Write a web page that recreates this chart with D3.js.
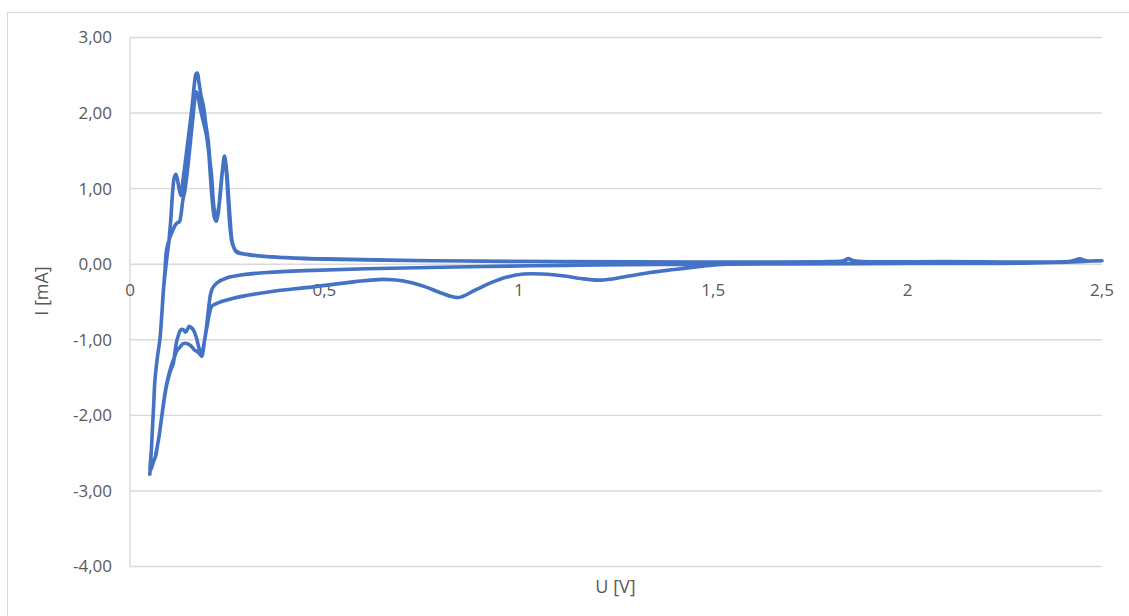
<!DOCTYPE html>
<html>
<head>
<meta charset="utf-8">
<script src="https://cdn.jsdelivr.net/npm/d3@7"></script>
<style>
  html, body { margin: 0; padding: 0; background: #fff; }
  svg { display: block; }
  text { font-family: "Open Sans", "Noto Sans", sans-serif; fill: #595959; }
</style>
</head>
<body>
<svg id="chart" width="1129" height="616"></svg>
<script>
// ---- Data (U in V, I in mA) ----
const xTicks = [0, 0.5, 1, 1.5, 2, 2.5];
const xTickLabels = ["0", "0,5", "1", "1,5", "2", "2,5"];
const yTicks = [-4, -3, -2, -1, 0, 1, 2, 3];
const yTickLabels = ["-4,00", "-3,00", "-2,00", "-1,00", "0,00", "1,00", "2,00", "3,00"];
const xTitle = "U [V]";
const yTitle = "I [mA]";

// cycle 1, anodic sweep
const anodic1 = [
  [0.051,-2.78],[0.055,-2.45],[0.058,-2.15],[0.061,-1.85],[0.064,-1.54],[0.070,-1.25],
  [0.077,-0.99],[0.082,-0.65],[0.086,-0.34],[0.090,-0.08],[0.094,0.19],[0.103,0.36],
  [0.111,0.46],[0.118,0.53],[0.122,0.55],[0.127,0.56],[0.131,0.65],[0.136,0.85],
  [0.141,0.97],[0.148,1.25],[0.155,1.6],[0.162,1.95],[0.167,2.2],[0.170,2.28],
  [0.174,2.24],[0.180,2.08],[0.188,1.9],[0.196,1.72],[0.202,1.5],[0.207,1.15],
  [0.212,0.82],[0.217,0.62],[0.222,0.57],[0.227,0.68],[0.232,0.95],[0.238,1.25],
  [0.243,1.40],[0.248,1.2],[0.253,0.8],[0.258,0.45],[0.264,0.26],[0.274,0.17],
  [0.30,0.13],[0.386,0.09],[0.5,0.07],[0.78,0.045],[1.1,0.035],[1.47,0.03],
  [1.8,0.035],[1.835,0.045],[1.848,0.07],[1.862,0.045],[2.1,0.035],[2.42,0.04],
  [2.443,0.065],[2.46,0.045],[2.5,0.045]
];
// cycle 1, cathodic sweep
const cathodic1 = [
  [2.5,0.045],[2.3,0.015],[2.0,0.01],[1.7,0.005],[1.55,0.0],[1.51,-0.005],[1.466,-0.03],
  [1.40,-0.07],[1.337,-0.11],[1.27,-0.17],[1.209,-0.21],[1.16,-0.19],[1.123,-0.16],
  [1.06,-0.13],[1.012,-0.13],[0.97,-0.17],[0.926,-0.25],[0.885,-0.35],[0.845,-0.44],
  [0.80,-0.38],[0.76,-0.30],[0.70,-0.22],[0.652,-0.20],[0.58,-0.23],[0.471,-0.30],
  [0.352,-0.37],[0.266,-0.45],[0.222,-0.52],[0.210,-0.56],[0.204,-0.66],[0.199,-0.80],
  [0.193,-0.97],[0.188,-1.12],[0.185,-1.21],[0.181,-1.20],[0.174,-1.16],[0.167,-1.14],
  [0.160,-1.10],[0.154,-1.07],[0.146,-1.05],[0.137,-1.05],[0.128,-1.10],[0.120,-1.15],
  [0.113,-1.25],[0.107,-1.33],[0.100,-1.46],[0.093,-1.62],[0.086,-1.85],[0.080,-2.08],
  [0.075,-2.27],[0.070,-2.42],[0.067,-2.52],[0.060,-2.62],[0.052,-2.74]
];
// cycle 2, anodic sweep
const anodic2 = [
  [0.052,-2.74],[0.055,-2.45],[0.058,-2.15],[0.061,-1.85],[0.064,-1.54],[0.070,-1.25],
  [0.077,-0.99],[0.082,-0.65],[0.086,-0.34],[0.094,0.05],[0.100,0.30],[0.105,0.6],
  [0.110,0.98],[0.114,1.15],[0.118,1.19],[0.122,1.12],[0.127,0.98],[0.131,0.91],
  [0.136,1.1],[0.141,1.3],[0.146,1.51],[0.153,1.8],[0.160,2.1],[0.166,2.4],
  [0.170,2.52],[0.173,2.53],[0.177,2.42],[0.183,2.22],[0.189,2.09],[0.195,1.85],
  [0.201,1.64],[0.206,1.35],[0.210,1.16],[0.214,0.85],[0.217,0.70],[0.221,0.58],
  [0.225,0.66],[0.231,0.86],[0.238,1.25],[0.243,1.43],[0.246,1.35],[0.250,1.16],
  [0.254,0.85],[0.257,0.63],[0.264,0.27],[0.274,0.16],[0.30,0.13],[0.386,0.09],
  [0.437,0.075],[0.78,0.045],[1.1,0.035],[1.47,0.03],[1.8,0.035],[1.835,0.045],
  [1.848,0.075],[1.862,0.045],[2.1,0.035],[2.42,0.04],[2.443,0.07],[2.46,0.045],[2.5,0.045]
];
// cycle 2, cathodic sweep
const cathodic2 = [
  [2.5,0.045],[2.3,0.02],[2.0,0.015],[1.7,0.01],[1.466,0.0],[1.2,-0.01],[1.037,-0.02],
  [0.8,-0.04],[0.609,-0.06],[0.45,-0.085],[0.352,-0.11],[0.29,-0.14],[0.25,-0.18],
  [0.223,-0.25],[0.212,-0.32],[0.207,-0.40],[0.203,-0.55],[0.200,-0.68],[0.196,-0.86],
  [0.191,-1.04],[0.187,-1.18],[0.184,-1.22],[0.180,-1.16],[0.176,-1.08],[0.170,-0.96],
  [0.164,-0.88],[0.158,-0.84],[0.152,-0.82],[0.148,-0.86],[0.143,-0.90],[0.138,-0.87],
  [0.133,-0.86],[0.128,-0.89],[0.124,-0.95],[0.120,-1.02],[0.116,-1.15],[0.111,-1.32],
  [0.105,-1.40],[0.098,-1.52],[0.092,-1.66],[0.086,-1.86],[0.080,-2.08],[0.075,-2.27],
  [0.070,-2.42],[0.066,-2.52]
];

// ---- Drawing ----
const svg = d3.select("#chart");
const W = 1129, H = 616;
const plot = { left: 130, right: 1102, top: 37.5, bottom: 566.5 };

const x = d3.scaleLinear().domain([0, 2.5]).range([plot.left, plot.right]);
const y = d3.scaleLinear().domain([-4, 3]).range([plot.bottom, plot.top]);

svg.append("rect").attr("x", 0).attr("y", 0).attr("width", W).attr("height", H).attr("fill", "#fff");
// chart frame
svg.append("rect").attr("x", 7.5).attr("y", 12.5).attr("width", W + 20).attr("height", H + 20)
  .attr("fill", "none").attr("stroke", "#d9d9d9").attr("stroke-width", 1);

// horizontal gridlines
svg.append("g").selectAll("line").data(yTicks).join("line")
  .attr("x1", plot.left).attr("x2", plot.right)
  .attr("y1", d => y(d)).attr("y2", d => y(d))
  .attr("stroke", "#d9d9d9").attr("stroke-width", 1.4);

// vertical axis line
svg.append("line").attr("x1", plot.left).attr("x2", plot.left)
  .attr("y1", y(3)).attr("y2", y(-4)).attr("stroke", "#d9d9d9").attr("stroke-width", 1.4);

// y tick labels
svg.append("g").selectAll("text").data(yTicks).join("text")
  .attr("x", 112).attr("y", d => y(d)).attr("dy", "0.35em")
  .attr("text-anchor", "end").attr("font-size", "17px")
  .text((d, i) => yTickLabels[i]);

// x tick labels (below the zero line)
svg.append("g").selectAll("text").data(xTicks).join("text")
  .attr("x", d => x(d)).attr("y", y(0) + 26)
  .attr("dy", "0.35em")
  .attr("text-anchor", "middle").attr("font-size", "17px")
  .text((d, i) => xTickLabels[i]);

// axis titles
svg.append("text").attr("x", x(1.25) - 0.5).attr("y", 587).attr("dy", "0.35em")
  .attr("text-anchor", "middle").attr("font-size", "18px").text(xTitle);
svg.append("text").attr("transform", "translate(42,291) rotate(-90)")
  .attr("dy", "0.35em").attr("text-anchor", "middle").attr("font-size", "18px").text(yTitle);

// curve
const allPts = anodic1.concat(cathodic1.slice(1), anodic2.slice(1), cathodic2.slice(1));
const line = d3.line().x(d => x(d[0])).y(d => y(d[1])).curve(d3.curveCatmullRom.alpha(0.5));
svg.append("path").datum(allPts).attr("d", line)
  .attr("fill", "none").attr("stroke", "#4472C4").attr("stroke-width", 3.6)
  .attr("stroke-linejoin", "round").attr("stroke-linecap", "round");
</script>
</body>
</html>
